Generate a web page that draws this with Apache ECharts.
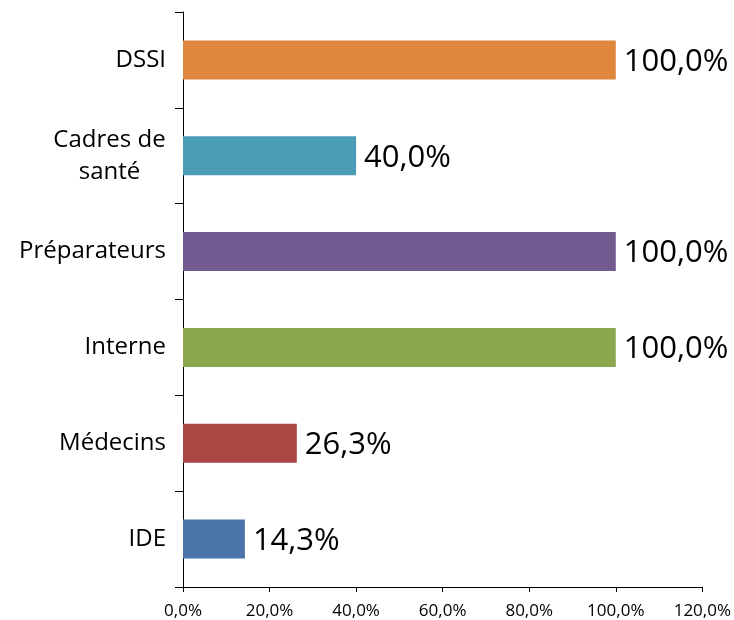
<!DOCTYPE html>
<html><head><meta charset="utf-8">
<script src="https://cdn.jsdelivr.net/npm/echarts@6/dist/echarts.min.js"></script>
<style>html,body{margin:0;padding:0;background:#fff}#c{width:734px;height:620px}</style>
</head><body><div id="c"></div>
<script>
const categories = ['IDE', 'Médecins', 'Interne', 'Préparateurs', 'Cadres de santé', 'DSSI'];
const values = [14.3, 26.3, 100.0, 100.0, 40.0, 100.0];
const colors = ['#4A74AA', '#AA4644', '#8BA84F', '#735B91', '#4A9DB5', '#E0873F'];
const xTicks = [0, 20, 40, 60, 80, 100, 120];
const fmt = v => v.toFixed(1).replace('.', ',') + '%';
const font = 'Open Sans';
const chart = echarts.init(document.getElementById('c'));
chart.setOption({
  animation: false,
  grid: {left: 183, right: 29, top: 12, bottom: 33, containLabel: false},
  xAxis: {
    type: 'value', min: xTicks[0], max: xTicks[xTicks.length - 1], interval: 20,
    axisLine: {show: true, lineStyle: {color: '#000', width: 1}},
    axisTick: {show: true, length: 5, lineStyle: {color: '#000'}},
    splitLine: {show: false},
    axisLabel: {formatter: v => fmt(v), color: '#000', fontSize: 17, fontFamily: font, margin: 16}
  },
  yAxis: {
    type: 'category', data: categories,
    axisLine: {show: true, lineStyle: {color: '#000', width: 1}},
    axisTick: {show: true, length: 8, alignWithLabel: false, lineStyle: {color: '#000'}},
    axisLabel: {
      color: '#000', fontSize: 24, fontFamily: font, margin: 17, lineHeight: 32,
      formatter: v => v === 'Cadres de santé' ? '{c|Cadres de}\n{c|santé}' : v,
      rich: {c: {width: 113, align: 'center', fontSize: 24, fontFamily: font, color: '#000', lineHeight: 32}}
    }
  },
  series: [{
    type: 'bar', barWidth: 39,
    data: values.map((v, i) => ({value: v, itemStyle: {color: colors[i]}})),
    label: {show: true, position: 'right', distance: 8, offset: [0, 2], formatter: p => fmt(p.value), color: '#000', fontSize: 31, fontFamily: font}
  }]
});
</script></body></html>
